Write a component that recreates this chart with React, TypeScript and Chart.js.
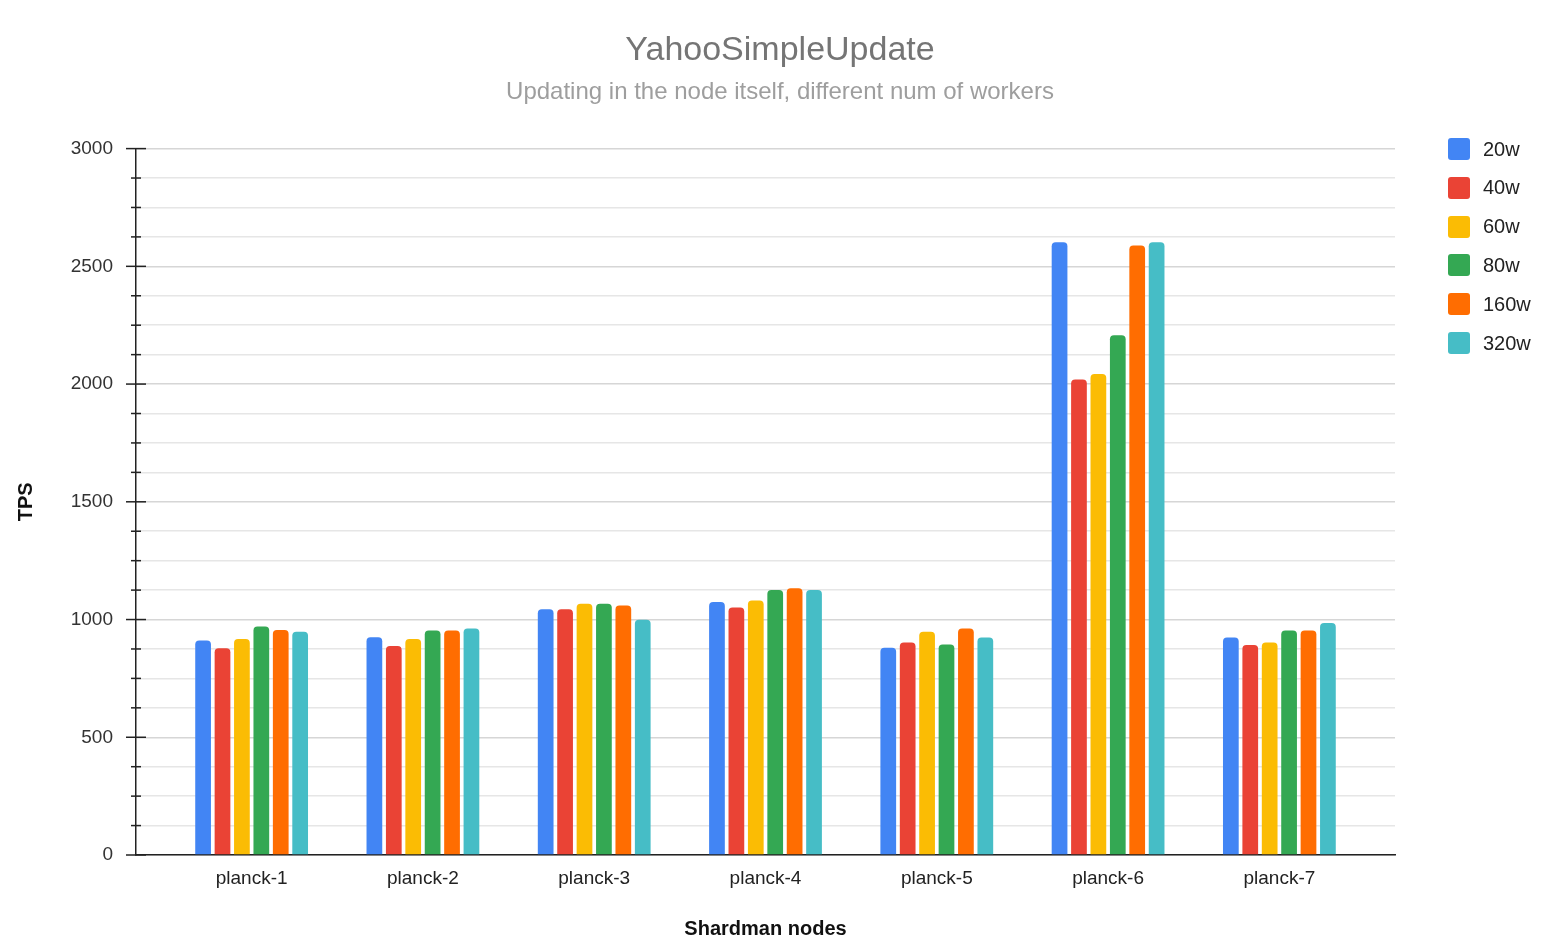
import { useEffect, useRef } from 'react'
import { Chart, registerables } from 'chart.js'

Chart.register(...registerables)

const nodes = ['planck-1', 'planck-2', 'planck-3', 'planck-4', 'planck-5', 'planck-6', 'planck-7']
const w20 = [911, 925, 1044, 1074, 880, 2602, 924]
const w40 = [878, 888, 1044, 1051, 902, 2019, 892]
const w60 = [917, 917, 1067, 1081, 948, 2043, 902]
const w80 = [970, 953, 1067, 1125, 894, 2207, 953]
const w160 = [956, 953, 1060, 1133, 962, 2588, 953]
const w320 = [948, 962, 999, 1125, 924, 2602, 985]

const seriesNames = ['20w', '40w', '60w', '80w', '160w', '320w']
const seriesColors = ['#4285F4', '#EA4335', '#FBBC04', '#34A853', '#FF6D01', '#46BDC6']
const seriesData = [w20, w40, w60, w80, w160, w320]

const FONT = '"Liberation Sans", Arial, sans-serif'

// draws the axis ticks across the y axis line: long at labelled values, short between
const crossTicks = {
  id: 'crossTicks',
  afterDraw(chart: Chart) {
    const y = chart.scales.y
    const { ctx } = chart
    const x0 = chart.chartArea.left
    ctx.save()
    ctx.strokeStyle = '#222'
    ctx.lineWidth = 1.5
    y.ticks.forEach((t) => {
      const py = y.getPixelForValue(t.value)
      const half = t.value % 500 === 0 ? 10 : 5
      ctx.beginPath()
      ctx.moveTo(x0 - half, py)
      ctx.lineTo(x0 + half, py)
      ctx.stroke()
    })
    ctx.restore()
  },
}

export default function App() {
  const ref = useRef<HTMLCanvasElement>(null)
  const chart = useRef<Chart | null>(null)

  useEffect(() => {
    if (!ref.current) return
    chart.current?.destroy()
    chart.current = new Chart(ref.current, {
      type: 'bar',
      data: {
        labels: nodes,
        datasets: seriesNames.map((name, i) => ({
          label: name,
          data: seriesData[i],
          backgroundColor: seriesColors[i],
          borderRadius: 4,
          categoryPercentage: 0.68,
          barPercentage: 0.81,
        })),
      },
      options: {
        animation: false,
        responsive: true,
        maintainAspectRatio: false,
        layout: { padding: 0 },
        plugins: {
          legend: { display: false },
          tooltip: { enabled: false },
          title: {
            display: true,
            text: 'YahooSimpleUpdate',
            color: '#757575',
            font: { family: FONT, size: 34, weight: 'normal' },
            padding: { top: 30, bottom: 3 },
          },
          subtitle: {
            display: true,
            text: 'Updating in the node itself, different num of workers',
            color: '#9e9e9e',
            font: { family: FONT, size: 24, weight: 'normal' },
            padding: { top: 4, bottom: 42 },
          },
        },
        scales: {
          x: {
            grid: { display: false, drawTicks: false },
            border: { color: '#222', width: 1.5 },
            ticks: { color: '#222', font: { family: FONT, size: 19 }, padding: 12 },
            title: {
              display: true,
              text: 'Shardman nodes',
              color: '#111',
              font: { family: FONT, size: 20, weight: 'bold' },
              padding: { top: 4, bottom: 9 },
            },
            // leave some empty room at both ends of the category axis
            afterBuildTicks: (s: any) => {
              s._startValue -= 0.175
              s._valueRange += 0.35
            },
            afterFit: (s: any) => {
              s.height = 95
            },
          },
          y: {
            min: 0,
            max: 3000,
            border: { color: '#222', width: 1.5 },
            grid: {
              color: (c: any) => (c.tick && c.tick.value % 500 === 0 ? '#d6d6d6' : '#e6e6e6'),
              lineWidth: 1.5,
              tickLength: 10,
              tickColor: 'transparent',
            },
            ticks: {
              stepSize: 125,
              color: '#333',
              font: { family: FONT, size: 19 },
              padding: 13,
              callback: (v: any) => (Number(v) % 500 === 0 ? String(v) : ''),
            },
            title: {
              display: true,
              text: 'TPS',
              color: '#111',
              font: { family: FONT, size: 20, weight: 'bold' },
              padding: { top: 14, bottom: 4 },
            },
            afterFit: (s: any) => {
              s.width = 136
            },
          },
          // empty axis on the right, keeps room for the legend
          side: {
            position: 'right',
            display: true,
            grid: { drawOnChartArea: false, drawTicks: false },
            border: { display: false },
            ticks: { display: false },
            afterFit: (s: any) => {
              s.width = 165
            },
          },
        },
      },
      plugins: [crossTicks],
    })
    return () => chart.current?.destroy()
  }, [])

  return (
    <div style={{ position: 'absolute', left: 0, top: 0, width: 1560, height: 950, background: '#fff', fontFamily: FONT }}>
      <canvas ref={ref} role="img" aria-label="YahooSimpleUpdate TPS by Shardman node" />
      {seriesNames.map((name, i) => (
        <div
          key={name}
          style={{ position: 'absolute', left: 1448, top: 138 + i * 38.8, height: 22, display: 'flex', alignItems: 'center', gap: 13 }}
        >
          <span style={{ width: 22, height: 22, borderRadius: 3, background: seriesColors[i], display: 'inline-block' }} />
          <span style={{ fontSize: 20, color: '#222' }}>{name}</span>
        </div>
      ))}
    </div>
  )
}
